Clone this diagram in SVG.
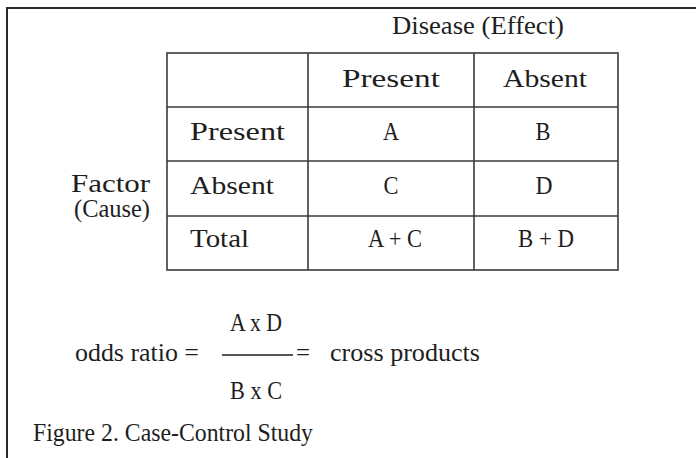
<svg xmlns="http://www.w3.org/2000/svg" width="696" height="458" viewBox="0 0 696 458">
<style>
  .frame { stroke:#2a2a2a; stroke-width:2; fill:none; }
  .grid { stroke:#3a3a3a; stroke-width:1.6; fill:none; }
  text { font-family:"Liberation Serif","Times New Roman",serif; fill:#1e1e1e; }
  .w { font-size:26px; }
  .n { font-size:25px; }
  .c { text-anchor:middle; }
  .e { text-anchor:end; }
</style>
<rect x="0" y="0" width="696" height="458" fill="#ffffff"/>
<g id="frame">
  <path class="frame" d="M7,458 V8 H696"/>
</g>
<g id="title-disease">
  <text class="w" x="392" y="34" textLength="172" lengthAdjust="spacingAndGlyphs">Disease (Effect)</text>
</g>
<g id="table">
  <rect class="grid" x="167" y="53" width="451" height="217"/>
  <path class="grid" d="M308,53 V270 M474,53 V270 M167,107 H618 M167,161 H618 M167,216 H618"/>
</g>
<g id="header">
  <text class="w c" x="391" y="87" textLength="98" lengthAdjust="spacingAndGlyphs">Present</text>
  <text class="w c" x="545" y="87" textLength="84" lengthAdjust="spacingAndGlyphs">Absent</text>
</g>
<g id="row-labels">
  <text class="w" x="190" y="140" textLength="95" lengthAdjust="spacingAndGlyphs">Present</text>
  <text class="w" x="190" y="194" textLength="84" lengthAdjust="spacingAndGlyphs">Absent</text>
  <text class="w" x="190" y="247" textLength="59" lengthAdjust="spacingAndGlyphs">Total</text>
</g>
<g id="cells">
  <text class="n c" x="391" y="140" textLength="16" lengthAdjust="spacingAndGlyphs">A</text>
  <text class="n c" x="543" y="140" textLength="15" lengthAdjust="spacingAndGlyphs">B</text>
  <text class="n c" x="391" y="194" textLength="15" lengthAdjust="spacingAndGlyphs">C</text>
  <text class="n c" x="544" y="194" textLength="17" lengthAdjust="spacingAndGlyphs">D</text>
  <text class="n c" x="395" y="247" textLength="54" lengthAdjust="spacingAndGlyphs">A + C</text>
  <text class="n c" x="546" y="247" textLength="56" lengthAdjust="spacingAndGlyphs">B + D</text>
</g>
<g id="factor">
  <text class="w e" x="150" y="192" textLength="79" lengthAdjust="spacingAndGlyphs">Factor</text>
  <text class="n e" x="150" y="217" textLength="76" lengthAdjust="spacingAndGlyphs">(Cause)</text>
</g>
<g id="formula">
  <text class="n" x="75" y="361" textLength="124" lengthAdjust="spacingAndGlyphs">odds ratio =</text>
  <text class="n" x="230" y="331" textLength="52" lengthAdjust="spacingAndGlyphs">A x D</text>
  <line x1="222" y1="355" x2="293" y2="355" stroke="#1e1e1e" stroke-width="1.4"/>
  <text class="n" x="296" y="361">=</text>
  <text class="n" x="330" y="361" textLength="150" lengthAdjust="spacingAndGlyphs">cross products</text>
  <text class="n" x="230" y="399" textLength="52" lengthAdjust="spacingAndGlyphs">B x C</text>
</g>
<g id="caption">
  <text class="w" x="33" y="441" textLength="280" lengthAdjust="spacingAndGlyphs">Figure 2. Case-Control Study</text>
</g>
</svg>
